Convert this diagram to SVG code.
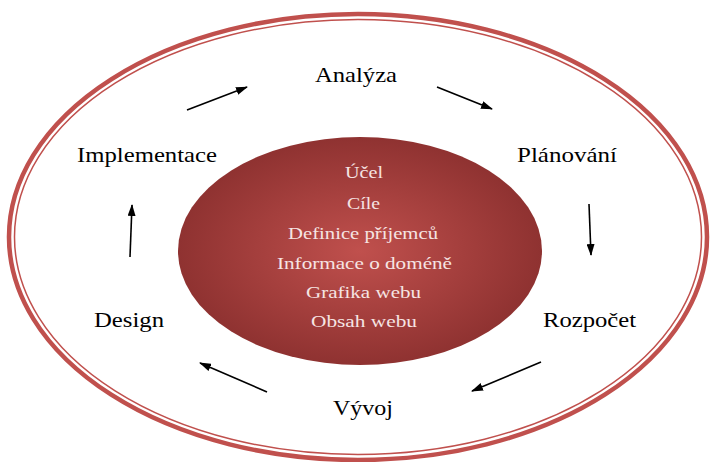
<svg xmlns="http://www.w3.org/2000/svg" width="711" height="462" viewBox="0 0 711 462">
  <defs>
    <radialGradient id="coreFill" cx="50%" cy="50%" r="55%">
      <stop offset="0" stop-color="#c0504d"/>
      <stop offset="1" stop-color="#8a2f2e"/>
    </radialGradient>
    <marker id="head" viewBox="0 0 12 8" refX="11" refY="4" markerWidth="12" markerHeight="8" markerUnits="userSpaceOnUse" orient="auto">
      <path d="M0,0 L12,4 L0,8 Z" fill="#000"/>
    </marker>
  </defs>
  <style>
    .label { font-family: "Liberation Serif", "Times New Roman", serif; font-size: 21px; fill: #000; }
    .item { font-family: "Liberation Serif", "Times New Roman", serif; font-size: 17px; fill: #f6e4e3; text-anchor: start; }
    .link { stroke: #000; stroke-width: 1.6; fill: none; marker-end: url(#head); }
  </style>
  <rect width="711" height="462" fill="#fff"/>

  <!-- outer double ring -->
  <g id="ring">
    <ellipse cx="358" cy="237" rx="349" ry="223" fill="none" stroke="#c0504d" stroke-width="4.5"/>
    <ellipse cx="358" cy="237" rx="343.5" ry="217.5" fill="none" stroke="#c0504d" stroke-width="1.5"/>
  </g>

  <!-- central scope ellipse -->
  <g id="core">
    <ellipse cx="360" cy="251" rx="182" ry="114" fill="url(#coreFill)"/>
    <text class="item" x="345" y="178" textLength="38" lengthAdjust="spacingAndGlyphs">Účel</text>
    <text class="item" x="347" y="209" textLength="33" lengthAdjust="spacingAndGlyphs">Cíle</text>
    <text class="item" x="288" y="239" textLength="150" lengthAdjust="spacingAndGlyphs">Definice příjemců</text>
    <text class="item" x="277" y="269" textLength="175" lengthAdjust="spacingAndGlyphs">Informace o doméně</text>
    <text class="item" x="306" y="298" textLength="115" lengthAdjust="spacingAndGlyphs">Grafika webu</text>
    <text class="item" x="311" y="327" textLength="106" lengthAdjust="spacingAndGlyphs">Obsah webu</text>
  </g>

  <!-- cycle phases -->
  <g id="analyza"><text class="label" x="315" y="82" textLength="82" lengthAdjust="spacingAndGlyphs">Analýza</text></g>
  <g id="planovani"><text class="label" x="517" y="162" textLength="100" lengthAdjust="spacingAndGlyphs">Plánování</text></g>
  <g id="rozpocet"><text class="label" x="543" y="327" textLength="93" lengthAdjust="spacingAndGlyphs">Rozpočet</text></g>
  <g id="vyvoj"><text class="label" x="333" y="415" textLength="60" lengthAdjust="spacingAndGlyphs">Vývoj</text></g>
  <g id="design"><text class="label" x="94" y="327" textLength="70" lengthAdjust="spacingAndGlyphs">Design</text></g>
  <g id="implementace"><text class="label" x="77" y="162" textLength="140" lengthAdjust="spacingAndGlyphs">Implementace</text></g>

  <!-- cycle arrows -->
  <g id="connectors">
    <line class="link" x1="187" y1="110" x2="247" y2="87"/>
    <line class="link" x1="437" y1="87" x2="492" y2="109"/>
    <line class="link" x1="589" y1="204" x2="591" y2="255"/>
    <line class="link" x1="541" y1="362" x2="472" y2="391"/>
    <line class="link" x1="267" y1="392" x2="200" y2="363"/>
    <line class="link" x1="130" y1="257" x2="132" y2="205"/>
  </g>
</svg>
